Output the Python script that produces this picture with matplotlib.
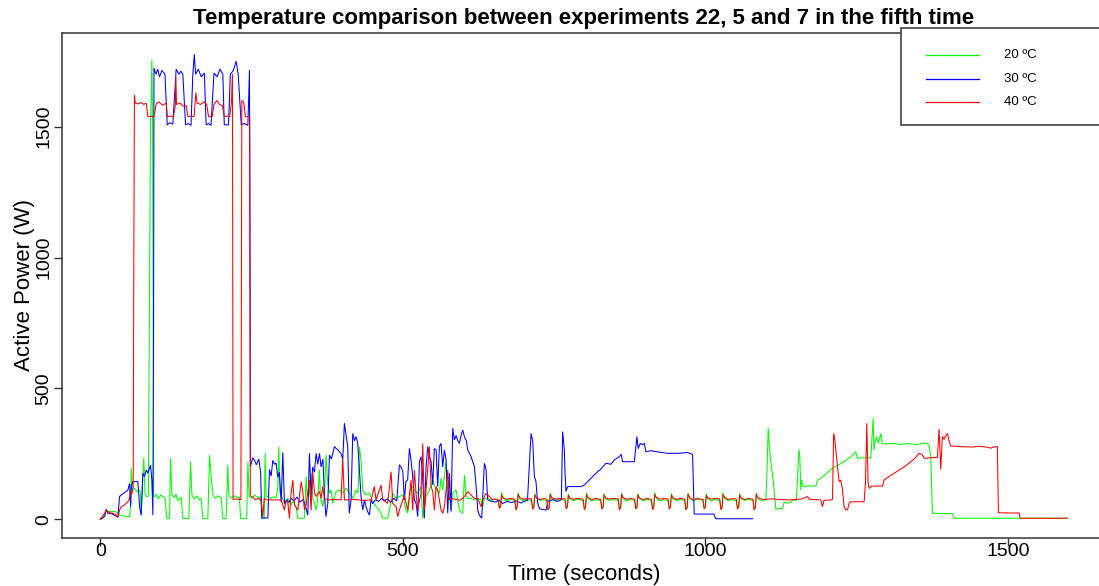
import matplotlib
matplotlib.use("Agg")
import matplotlib.pyplot as plt
from matplotlib.patches import Rectangle

# ---------------- data ----------------
labels = ["20 \u00baC", "30 \u00baC", "40 \u00baC"]
colors = ["#00ff00", "#0000ff", "#ff0000"]

t_20 = [0, 5, 9.9, 15, 26.4, 31.9, 40, 48.5, 50.5, 51.2, 53.4, 56.7, 60, 64, 66, 67.7, 69, 72, 74, 77, 79.5,
        81.5, 83, 85.3, 86.5, 87.5, 88.3, 89.7, 93, 96, 100, 103.5, 107, 109, 110, 114.5, 116.2, 118.4, 122.8,
        125, 129, 133.8, 136.5, 146.4, 149.2, 151.5, 155, 160, 163, 166.8, 169.6, 177.8, 180.6, 183, 186, 190,
        195, 200, 202.6, 208, 210.8, 212.5, 216, 222, 227.4, 230, 232, 242, 244, 246, 250, 255, 260, 265, 267,
        271, 272.5, 274, 278, 282, 286, 290.7, 293.4, 295, 297, 299, 302, 306, 310, 315.4, 318.2, 323.7, 326.5,
        337.5, 340.2, 342, 345, 348.5, 351, 356.7, 359.5, 362.2, 364, 367.7, 370.5, 373.2, 376, 378.8, 381.5,
        384.2, 389.8, 395, 400.8, 406.3, 411.8, 417.3, 422.8, 426, 428.3, 431, 433.8, 439.3, 444.8, 450.3,
        455.8, 461.3, 466.8, 475.1, 477.8, 483.3, 488.9, 494.4, 499.9, 505.4, 508.2, 513.6, 519.1, 524.6,
        530.1, 532.9, 538.4, 543.9, 549.4, 555, 560.4, 563.2, 566, 571.5, 574.2, 577, 579.7, 583, 588, 593.5,
        599, 601.8, 604.5, 607.3, 612.8, 618.3, 623.8, 629.3, 632, 634.8, 640.3,
        646, 652, 657.6, 659.6, 661.6, 663.1, 665.6, 671.6, 677.6,
        685, 687, 689, 690.5, 693, 699, 705,
        712.6, 714.6, 716.6, 718.1, 720.6, 726.6, 732.6,
        738, 740, 742, 743.5, 746, 752, 758,
        768, 770, 772, 773.5, 776, 782, 788,
        798, 800, 802, 803.5, 806, 812, 818,
        827, 829, 831, 832.5, 835, 841, 847,
        856, 858, 860, 861.5, 864, 870, 876,
        883, 885, 887, 888.5, 891, 897, 903,
        910.7, 912.7, 914.7, 916.2, 918.7, 924.7, 930.7,
        938.3, 940.3, 942.3, 943.8, 946.3, 952.3, 958.3,
        965.8, 967.8, 969.8, 971.3, 973.8, 979.8, 985.8,
        996, 998, 1000, 1001.5, 1004, 1010, 1016,
        1023.6, 1025.6, 1027.6, 1029.1, 1031.6, 1037.6, 1043.6,
        1051.1, 1053.1, 1055.1, 1056.6, 1059.1, 1065.1, 1071.1,
        1078.6, 1080.6, 1082.6, 1084.1, 1086.6, 1092.6, 1097,
        1100, 1102, 1103.8, 1107, 1112.6, 1116.4, 1122, 1127.4, 1130, 1135.7, 1141, 1146, 1150, 1152.2,
        1154.5, 1156, 1157.7, 1159, 1160.5, 1163.2, 1170, 1182.5, 1185.3, 1190, 1210, 1229.3, 1240.3,
        1248.6, 1251.3, 1260, 1267.8, 1273.3, 1275, 1277.2, 1278.5, 1280.5, 1283, 1286, 1289.8, 1292,
        1295.4, 1310, 1320, 1335, 1350, 1360, 1366.9, 1370, 1372.4, 1375.2, 1390, 1408.2, 1411, 1500, 1598]
p_20 = [0, 5, 33, 30, 29, 16, 12, 10, 60, 195, 112, 118, 105, 112, 108, 16, 100, 235, 95, 86, 88,
        900, 1480, 1755, 1500, 700, 90, 86, 95, 78, 92, 88, 80, 30, 3, 3, 233, 93, 82,
        96, 70, 85, 3, 3, 220, 93, 78, 90, 75, 80, 3, 3, 245, 175, 93, 80,
        90, 82, 3, 3, 207, 93, 80, 90, 82, 85, 3, 3, 220, 88, 80, 92, 84, 86, 4,
        4, 254, 90, 84, 80, 86, 82, 120, 277, 100, 93, 75, 60, 80, 55, 68, 48, 4,
        4, 163, 90, 93, 176, 85, 35, 80, 188, 85, 48, 90, 246, 137, 100, 112,
        61, 106, 112, 100, 118, 100, 80, 112, 100, 277, 226, 112, 93, 100, 68,
        48, 35, 4, 4, 35, 99, 80, 87, 93, 35, 23, 131, 112, 99,
        125, 4, 87, 112, 150, 112, 99, 157, 112, 220, 112, 106, 35, 100, 112, 35,
        23, 169, 87, 80, 80, 74, 80, 74, 48, 80, 80,
        72, 76, 70, 42, 48, 104, 80, 70, 76,
        72, 38, 45, 102, 78, 71, 77,
        70, 40, 46, 98, 80, 72, 75,
        72, 36, 44, 100, 78, 70, 76,
        73, 40, 47, 97, 79, 71, 77,
        72, 38, 45, 101, 80, 70, 75,
        71, 40, 46, 99, 78, 72, 76,
        72, 37, 44, 100, 80, 70, 77,
        73, 40, 46, 98, 79, 71, 76,
        72, 38, 45, 102, 80, 70, 75,
        71, 40, 47, 99, 78, 72, 76,
        72, 37, 44, 100, 80, 71, 77,
        73, 40, 46, 97, 79, 70, 76,
        72, 38, 45, 101, 80, 71, 75,
        71, 40, 46, 99, 78, 72, 76,
        72, 37, 44, 100, 80, 70, 74,
        74, 200, 348, 239, 138, 38, 42, 40, 66, 61, 66, 74, 72, 150,
        267, 240, 112, 150, 131, 125, 128, 127, 150, 156, 195, 220, 239,
        258, 233, 235, 236, 233, 300, 386, 265, 300, 316, 290, 328, 290,
        288, 290, 286, 289, 285, 291, 290, 280, 239, 23, 22, 22, 4, 4, 4]

t_30 = [0, 7.2, 9.9, 12.7, 18.2, 23.7, 29.2, 31.9, 34.7, 40.2, 45.7, 48.5, 50.1, 51.5, 54, 62.2, 65, 67.7,
        70.5, 73.2, 76, 78.7, 83.1, 85.3, 87, 88.2, 88.8, 92, 95, 98, 102, 107, 110.7, 115, 120, 125.5, 130,
        133, 136.5, 141, 145, 150, 153, 155.5, 157.5, 162, 167, 172, 175, 179, 183, 188, 193, 198, 202.6,
        205, 212, 215, 220, 224.6, 228, 233, 238, 244, 246.6, 247.5, 248.2, 252, 255, 258, 262, 265, 267,
        277, 279.7, 282.4, 285.2, 288, 290.7, 293.4, 296, 299, 301.7, 304.4, 308, 312, 316, 320, 325, 330,
        335, 338, 343, 345.7, 348.5, 351, 354, 356.7, 359.5, 362.3, 365, 368, 370.5, 373, 376, 378.8, 382,
        387, 390, 393, 398, 400.8, 403.5, 406.3, 409, 411.5, 414.5, 417.3, 420, 422.8, 425.5, 431, 433.8,
        436.6, 439.3, 442, 444.8, 447.5, 450, 455, 460, 465, 470, 475, 480, 485, 490, 494.4, 497, 500,
        502.6, 505, 508, 510.9, 513.6, 516.4, 519.2, 522, 524.7, 527.4, 530.1, 532.9, 535.6, 538.4, 541.2,
        544, 546.7, 549.5, 552, 555, 557.7, 560.4, 563.2, 566, 568.7, 571.5, 574.2, 577, 579.7, 582.5,
        585.2, 588, 591, 593.5, 596.2, 599, 601.8, 605, 607.3, 612.7, 615.5, 618.3, 621, 623.8, 626.6,
        630.4, 634.8, 637.5, 640.3, 645, 652, 659, 665, 672, 680, 688, 695, 700, 706, 711.9, 714.6, 717.4,
        720, 722.9, 726, 736.6, 740, 750, 755, 762, 764.1, 766.9, 768, 769.6, 772.4, 780, 794.4, 800, 811,
        822, 827, 835.7, 844, 849.4, 857.7, 861, 863, 882.5, 885.2, 886.8, 889, 892.4, 896, 899, 901.7,
        910, 920, 937.5, 955, 970.5, 978.8, 981.5, 1014, 1017.3, 1078]
p_30 = [0, 10, 38, 23, 21, 16, 8, 86, 93, 102, 112, 137, 48, 130, 144, 144, 48, 16,
        176, 163, 188, 176, 207, 150, 16, 800, 1724, 1700, 1720, 1690, 1715, 1700, 1507, 1515, 1510, 1720, 1700,
        1712, 1700, 1507, 1512, 1505, 1700, 1777, 1700, 1720, 1690, 1705, 1507, 1512, 1505, 1705, 1690, 1720, 1700,
        1507, 1507, 1700, 1715, 1750, 1700, 1507, 1512, 1505, 1717, 1000, 201, 235, 225, 208, 230, 180, 5,
        5, 190, 165, 225, 210, 215, 160, 180, 65, 255, 60, 75, 65, 80, 70, 85, 65,
        75, 60, 16, 252, 85, 200, 180, 252, 210, 252, 200, 230, 90, 10, 60, 246, 230,
        278, 270, 265, 250, 230, 367, 320, 280, 23, 74, 328, 300, 316, 290, 87, 35,
        74, 48, 29, 16, 74, 60, 75, 68, 80, 72, 78, 65, 80, 70, 208, 200, 182,
        74, 144, 150, 271, 226, 160, 74, 60, 10, 220, 239, 160, 4, 200, 278,
        240, 220, 131, 270, 265, 125, 278, 290, 200, 265, 227, 23, 176, 29, 348,
        303, 320, 300, 290, 320, 341, 315, 300, 265, 240, 220, 201, 130, 35, 15,
        4, 214, 190, 74, 70, 66, 72, 60, 68, 64, 70, 62, 68, 72, 328, 300, 163,
        145, 61, 40, 35, 70, 75, 68, 75, 335, 265, 180, 106, 125, 125, 125, 131, 157,
        182, 191, 214, 210, 227, 239, 248, 220, 220, 277, 316, 270, 290, 285, 290, 258,
        262, 258, 252, 252, 255, 248, 20, 20, 2, 2]

t_40 = [0, 7.2, 9.9, 15.4, 20.9, 26.4, 29.2, 31.9, 34.7, 40.2, 45.7, 48.4, 50.1, 52.3, 54.5, 55.5, 56.5, 58,
        62, 67, 72, 76, 78.7, 84, 88.6, 92.5, 97, 103, 109, 111, 116, 121, 124, 125, 126, 132, 137, 142, 145,
        150, 155, 158, 160, 166, 171, 176, 179, 185, 188, 193, 197, 202, 205, 210, 214, 217, 218.5, 219.5,
        225, 232.5, 234, 237, 240, 247, 248, 252, 256, 262, 266, 268.6, 271, 275, 290, 299, 304.4, 307, 310,
        312.7, 315, 318.2, 320.9, 326.5, 332, 334.7, 337.5, 340.2, 345.7, 348.5, 351.2, 354, 356.7, 362.2,
        365, 367.7, 370.5, 376, 387, 398, 400.8, 403.5, 409, 420, 435, 447.6, 453, 455.8, 464, 466.8, 475,
        480.6, 483.3, 488.9, 491.6, 494.4, 502.6, 508.2, 513.6, 516.4, 519.1, 521.9, 524.6, 530.1, 533,
        535.6, 541, 543.9, 546.7, 549.4, 552.2, 555, 557.7, 563.2, 566, 568.7, 571.5, 574.2, 577, 579.7,
        590.7, 596.2, 601.8, 607.3, 612.8, 618.3, 623.8, 629.3, 632, 637.5, 643, 648.5,
        652, 657.6, 659.6, 661.6, 663.1, 666, 672, 678,
        685, 687, 689, 690.5, 693, 699, 705,
        712.6, 714.6, 716.6, 718.1, 721, 727, 733,
        738, 740, 742, 743.5, 746, 752, 758,
        768, 770, 772, 773.5, 776, 782, 788,
        798, 800, 802, 803.5, 806, 812, 818,
        827, 829, 831, 832.5, 835, 841, 847,
        856, 858, 860, 861.5, 864, 870, 876,
        883, 885, 887, 888.5, 891, 897, 903,
        910.7, 912.7, 914.7, 916.2, 918.7, 924.7, 930.7,
        938.3, 940.3, 942.3, 943.8, 946.3, 952.3, 958.3,
        965.8, 967.8, 969.8, 971.3, 973.8, 979.8, 985.8,
        996, 998, 1000, 1001.5, 1004, 1010, 1016,
        1023.6, 1025.6, 1027.6, 1029.1, 1031.6, 1037.6, 1043.6,
        1051.1, 1053.1, 1055.1, 1056.6, 1059.1, 1065.1, 1071.1,
        1078.6, 1080.6, 1082.6, 1084.1, 1086.6, 1092.6,
        1097, 1110, 1125, 1140, 1160, 1168.7, 1172, 1190.7, 1193.5, 1196, 1207.3, 1210, 1212, 1214, 1218.3,
        1221, 1223.8, 1226.5, 1229.3, 1232, 1234.8, 1237.5, 1240.3, 1262.3, 1264.5, 1266.7, 1268.9, 1270.6,
        1275, 1292.6, 1295.4, 1306.4, 1328.4, 1344.9, 1353.2, 1358, 1361.4, 1372, 1383.4, 1386.2, 1389,
        1391.6, 1394.4, 1397, 1400, 1402.7, 1405.5, 1420, 1440, 1455, 1466, 1472, 1478, 1482.5, 1484.2,
        1500, 1518.3, 1520, 1598]
p_40 = [0, 23, 35, 25, 23, 16, 8, 35, 48, 55, 67, 80, 106, 98, 125, 1000, 1621, 1590,
        1587, 1592, 1585, 1590, 1538, 1540, 1538, 1587, 1595, 1582, 1590, 1538, 1540, 1538, 1580, 1690, 1585, 1590, 1578, 1580, 1538,
        1540, 1538, 1630, 1590, 1585, 1595, 1585, 1538, 1538, 1585, 1600, 1585, 1580, 1538, 1540, 1538, 1600, 1700, 75,
        78, 75, 1600, 1595, 1538, 1538, 90, 85, 75, 80, 70, 10, 80, 74, 74, 74, 35, 70, 65,
        4, 90, 150, 55, 35, 144, 106, 35, 55, 150, 35, 182, 100, 87, 106,
        80, 125, 80, 74, 76, 74, 233, 74, 74, 76, 72, 74, 125, 74, 131, 74, 61,
        182, 61, 48, 10, 35, 93, 35, 150, 35, 188, 99, 35, 100, 290,
        35, 188, 278, 125, 106, 35, 125, 112, 35, 23, 48, 112, 188, 74, 80,
        74, 74, 87, 106, 93, 80, 80, 48, 74, 99, 87, 74,
        78, 76, 42, 50, 92, 82, 76, 80,
        77, 35, 48, 95, 84, 76, 79,
        78, 38, 47, 93, 82, 75, 80,
        76, 36, 46, 96, 83, 77, 79,
        78, 40, 49, 92, 81, 76, 80,
        77, 37, 47, 95, 84, 75, 79,
        76, 39, 48, 93, 82, 77, 80,
        78, 36, 46, 96, 83, 76, 79,
        77, 40, 48, 94, 81, 75, 80,
        76, 37, 47, 95, 84, 77, 79,
        78, 39, 48, 93, 82, 76, 80,
        77, 36, 46, 96, 83, 75, 79,
        76, 40, 49, 92, 81, 77, 80,
        78, 37, 47, 95, 84, 76, 79,
        77, 39, 48, 93, 82, 75, 80,
        76, 36, 46, 96, 83, 77,
        76, 78, 75, 74, 78, 87, 76, 74, 48, 72, 74, 76, 329, 303, 201,
        144, 150, 112, 48, 36, 36, 61, 67, 67, 138, 367, 138, 118,
        127, 127, 150, 168, 200, 230, 252, 248, 233, 235, 237, 345, 190,
        316, 305, 318, 328, 300, 280, 278, 276, 279, 275, 272, 277, 278, 25,
        24, 24, 4, 4]

series = [(t_20, p_20), (t_30, p_30), (t_40, p_40)]

x_ticks = [0, 500, 1000, 1500]
y_ticks = [0, 500, 1000, 1500]

# ---------------- figure ----------------
plt.rcParams['font.family'] = ['Liberation Sans', 'DejaVu Sans']
W, H = 1099, 586
fig = plt.figure(figsize=(W / 100, H / 100), dpi=100)
ax_l, ax_r, ax_t, ax_b = 61.5, 1106, 32.7, 538
ax = fig.add_axes([ax_l / W, (H - ax_b) / H, (ax_r - ax_l) / W, (ax_b - ax_t) / H])

for (t, p), c in zip(series, colors):
    ax.plot(t, p, color=c, lw=0.75, solid_joinstyle='miter')

ax.set_xlim(-64, 1662)
ax.set_ylim(-71.5, 1859)
ax.set_xticks(x_ticks)
ax.set_yticks(y_ticks)
ax.tick_params(direction='out', length=6, width=1, labelsize=14, color='#333333')
ax.tick_params(axis='x', pad=-2.5)
ax.tick_params(axis='y', pad=0.5)
for lab in ax.get_yticklabels():
    lab.set_rotation(90)
    lab.set_va('center')
for s in ax.spines.values():
    s.set_linewidth(1.1)
    s.set_color('#333333')

ax.set_title("Temperature comparison between experiments 22, 5 and 7 in the fifth time",
             fontsize=16, fontweight='bold', pad=6)
ax.set_xlabel("Time (seconds)", fontsize=16, labelpad=3)
ax.set_ylabel("Active Power (W)", fontsize=16, labelpad=0)

# legend box (R style, top-right)
def fx(px):
    return (px - ax_l) / (ax_r - ax_l)

def fy(py):
    return (ax_b - py) / (ax_b - ax_t)

ax.add_patch(Rectangle((fx(900.7), fy(125.3)), 1.2, 1.0 - fy(125.3) + 0.01,
                       transform=ax.transAxes, facecolor='white', edgecolor='#333333',
                       lw=1.1, clip_on=False, zorder=5))
for i, (lab, c) in enumerate(zip(labels, colors)):
    yy = fy([55.3, 79.3, 102.0][i])
    ax.plot([fx(926), fx(978.7)], [yy, yy], transform=ax.transAxes, color=c, lw=0.9,
            clip_on=False, zorder=6)
    ax.text(fx(1004), yy, lab, transform=ax.transAxes, fontsize=9.5, va='center', ha='left',
            zorder=6)

fig.savefig("out.png", dpi=100)
